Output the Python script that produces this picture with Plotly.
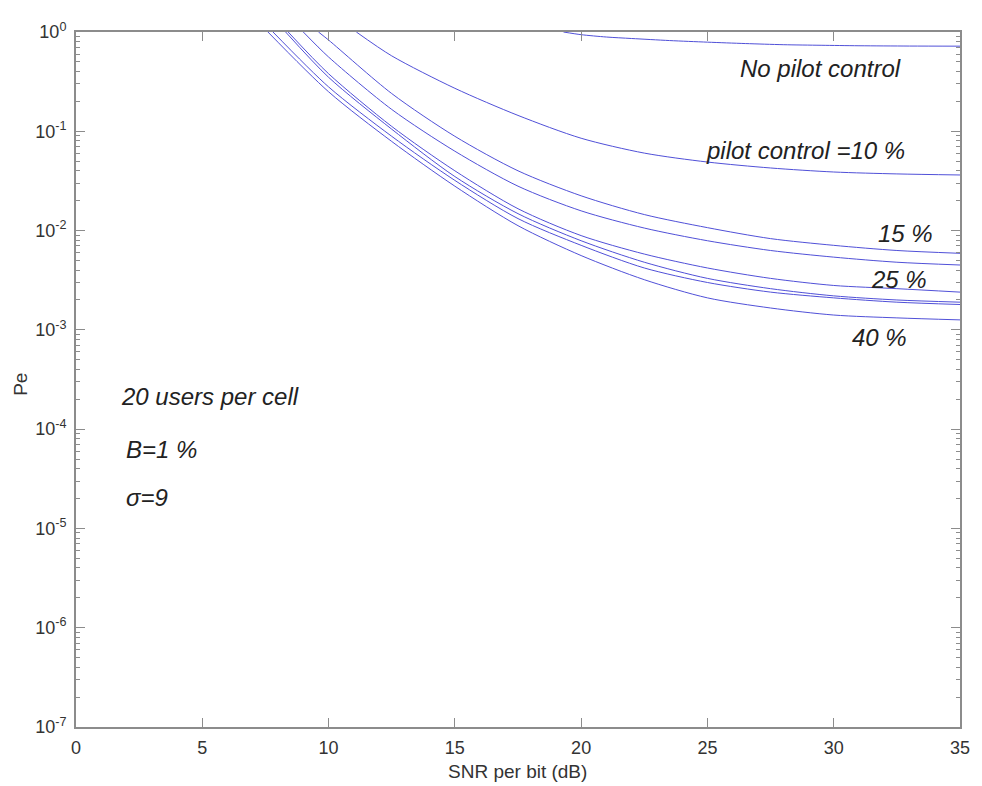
import plotly.graph_objects as go

# SNR per bit (dB) sample points and Pe values
snr_nopilot = [19.3, 20, 21, 22, 23.5, 25, 26.5, 28, 29.5, 31, 33, 35]
pe_nopilot = [1.0, 0.94, 0.89, 0.86, 0.82, 0.79, 0.765, 0.745, 0.735, 0.727, 0.722, 0.72]

snr_10 = [11.1, 12.5, 15, 17.5, 20, 22.5, 25, 27.5, 30, 32.5, 35]
pe_10 = [1.0, 0.575, 0.271, 0.1445, 0.0851, 0.0603, 0.049, 0.0427, 0.0389, 0.0372, 0.0363]

snr_15 = [9.6, 10, 12.5, 15, 17.5, 20, 22.5, 25, 27.5, 30, 32.5, 35]
pe_15 = [1.0, 0.83, 0.24, 0.089, 0.040, 0.0224, 0.0145, 0.0107, 0.0083, 0.0071, 0.0063, 0.0059]

snr_20 = [9.0, 10, 12.5, 15, 17.5, 20, 22.5, 25, 27.5, 30, 32.5, 35]
pe_20 = [1.0, 0.56, 0.166, 0.063, 0.028, 0.0158, 0.0106, 0.0079, 0.0063, 0.0054, 0.0048, 0.0045]

snr_25 = [8.4, 10, 12.5, 15, 17.5, 20, 22.5, 25, 27.5, 30, 32.5, 35]
pe_25 = [1.0, 0.38, 0.112, 0.040, 0.0166, 0.0089, 0.0058, 0.0042, 0.0033, 0.0028, 0.0026, 0.0024]

snr_30 = [8.3, 10, 12.5, 15, 17.5, 20, 22.5, 25, 27.5, 30, 32.5, 35]
pe_30 = [1.0, 0.35, 0.105, 0.035, 0.0148, 0.0079, 0.0048, 0.0033, 0.0026, 0.0022, 0.0020, 0.0019]

snr_35 = [7.8, 10, 12.5, 15, 17.5, 20, 22.5, 25, 27.5, 30, 32.5, 35]
pe_35 = [1.0, 0.28, 0.089, 0.032, 0.0132, 0.0071, 0.0042, 0.0030, 0.0024, 0.0021, 0.0019, 0.0018]

snr_40 = [7.6, 10, 12.5, 15, 17.5, 20, 22.5, 25, 27.5, 30, 32.5, 35]
pe_40 = [1.0, 0.25, 0.079, 0.028, 0.0112, 0.0056, 0.0032, 0.0021, 0.00166, 0.00141, 0.00132, 0.00126]

series = [
    (snr_nopilot, pe_nopilot),
    (snr_10, pe_10),
    (snr_15, pe_15),
    (snr_20, pe_20),
    (snr_25, pe_25),
    (snr_30, pe_30),
    (snr_35, pe_35),
    (snr_40, pe_40),
]

x_ticks = [0, 5, 10, 15, 20, 25, 30, 35]
y_tickvals = [1e-7, 1e-6, 1e-5, 1e-4, 1e-3, 1e-2, 1e-1, 1]
y_ticktext = ["10<sup>-7</sup>", "10<sup>-6</sup>", "10<sup>-5</sup>", "10<sup>-4</sup>",
              "10<sup>-3</sup>", "10<sup>-2</sup>", "10<sup>-1</sup>", "10<sup>0</sup>"]

line_color = "#5050d8"

fig = go.Figure()
for xs, ys in series:
    fig.add_trace(go.Scatter(x=xs, y=ys, mode="lines",
                             line=dict(color=line_color, width=1, shape="spline", smoothing=0.8),
                             showlegend=False, hoverinfo="skip"))

minor_vals = [m * 10 ** e for e in range(-7, 0) for m in range(2, 10)]

font_family = "Liberation Sans, Arial, sans-serif"
frame = "#8c8c8c"
# page body has an 8px default margin: figure is sized/margined to compensate
fig.update_layout(
    width=974, height=778,
    margin=dict(l=68, r=14, t=15, b=59),
    paper_bgcolor="white", plot_bgcolor="white",
    font=dict(family=font_family, size=18, color="#222222"),
    xaxis=dict(range=[0, 35], tickvals=x_ticks, ticks="inside", ticklen=9,
               tickcolor=frame, showline=True, linecolor=frame, linewidth=2,
               mirror="ticks", showgrid=False, zeroline=False,
               ticklabelstandoff=3,
               tickfont=dict(size=18, color="#333333")),
    yaxis=dict(type="log", range=[-7, 0], tickvals=y_tickvals, ticktext=y_ticktext,
               ticks="inside", ticklen=9, tickcolor=frame, showline=True,
               linecolor=frame, linewidth=2, mirror="ticks", showgrid=False,
               zeroline=False, ticklabelstandoff=4,
               minor=dict(tickvals=minor_vals, ticks="inside", ticklen=4, tickcolor=frame),
               tickfont=dict(size=18, color="#333333")),
)

# axis titles
fig.add_annotation(xref="paper", yref="paper", x=0.4989, y=-0.064, text="SNR per bit (dB)",
                   showarrow=False, xanchor="center", yanchor="middle",
                   font=dict(family=font_family, size=19, color="#333333"))
fig.add_annotation(xref="paper", yref="paper", x=-0.0628, y=0.493, text="Pe", textangle=-90,
                   showarrow=False, xanchor="center", yanchor="middle",
                   font=dict(family=font_family, size=19, color="#333333"))

ann_font = dict(family=font_family, size=24, color="#222222")
labels = [
    (29.46, -0.37, "<i>No pilot control</i>", "center"),
    (28.9, -1.19, "<i>pilot control =10 %</i>", "center"),
    (32.84, -2.03, "<i>15 %</i>", "center"),
    (32.6, -2.49, "<i>25 %</i>", "center"),
    (31.8, -3.08, "<i>40 %</i>", "center"),
    (1.7, -3.67, "<i>20 users per cell</i>", "left"),
    (1.9, -4.21, "<i>B=1 %</i>", "left"),
    (1.9, -4.69, "<i>σ=9</i>", "left"),
]
for x, ly, t, anc in labels:
    fig.add_annotation(x=x, y=ly, text=t, showarrow=False, xanchor=anc,
                       yanchor="middle", font=ann_font)

fig.write_html("out.html")
